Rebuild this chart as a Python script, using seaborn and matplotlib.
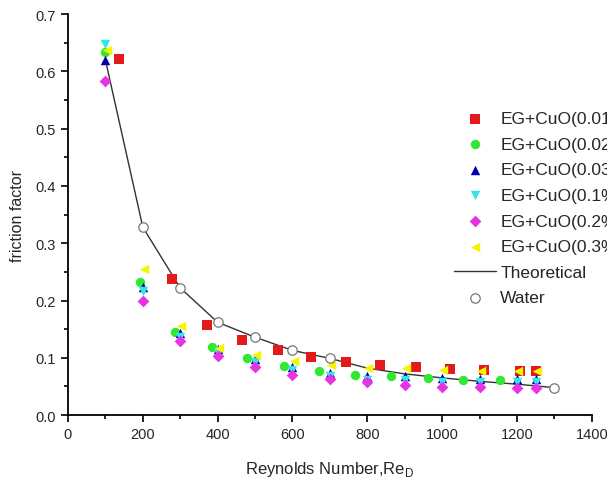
import pandas as pd
import seaborn as sns
import matplotlib.pyplot as plt
from matplotlib.ticker import MultipleLocator

# friction factor vs Reynolds number
re_001 = [136, 279, 372, 466, 560, 650, 744, 835, 931, 1020, 1113, 1207, 1250]
f_001 = [0.622, 0.237, 0.157, 0.131, 0.113, 0.101, 0.093, 0.087, 0.084, 0.080, 0.079, 0.077, 0.077]

re_002 = [100, 193, 286, 385, 479, 576, 672, 768, 864, 961, 1057, 1154]
f_002 = [0.633, 0.232, 0.145, 0.119, 0.100, 0.085, 0.077, 0.070, 0.068, 0.065, 0.061, 0.061]

re_003 = [100, 200, 300, 400, 500, 600, 700, 800, 900, 1000, 1100, 1200, 1250]
f_003 = [0.619, 0.223, 0.143, 0.115, 0.098, 0.084, 0.073, 0.068, 0.068, 0.064, 0.063, 0.063, 0.063]

re_01 = [100, 200, 300, 400, 500, 600, 700, 800, 900, 1000, 1100, 1200, 1250]
f_01 = [0.648, 0.217, 0.137, 0.109, 0.092, 0.078, 0.068, 0.062, 0.061, 0.058, 0.057, 0.057, 0.057]

re_02 = [100, 200, 300, 400, 500, 600, 700, 800, 900, 1000, 1100, 1200, 1250]
f_02 = [0.583, 0.199, 0.129, 0.103, 0.084, 0.070, 0.063, 0.058, 0.052, 0.049, 0.049, 0.047, 0.047]

re_03 = [103, 203, 303, 403, 503, 603, 703, 803, 903, 1003, 1103, 1203, 1253]
f_03 = [0.638, 0.255, 0.155, 0.118, 0.105, 0.094, 0.087, 0.083, 0.083, 0.079, 0.077, 0.077, 0.077]

re_theory = [100, 200, 300, 400, 500, 600, 700, 800, 900, 1000, 1100, 1200, 1300]
f_theory = [0.620, 0.328, 0.222, 0.162, 0.136, 0.113, 0.099, 0.082, 0.072, 0.065, 0.059, 0.054, 0.048]

re_water = [200, 300, 400, 500, 600, 700, 1300]
f_water = [0.328, 0.222, 0.162, 0.136, 0.113, 0.099, 0.048]

sns.set_style("ticks")
plt.rcParams['font.family'] = ['Liberation Sans', 'DejaVu Sans']

fig = plt.figure(figsize=(6.07, 4.85), dpi=100)
ax = fig.add_axes([0.112, 0.142, 0.863, 0.827])

sns.lineplot(x=re_theory, y=f_theory, color='#333333', linewidth=1, ax=ax, label='Theoretical', zorder=2)

series = [
    (re_001, f_001, 's', '#e31a1c', 'EG+CuO(0.01%)', 42),
    (re_002, f_002, 'o', '#33e633', 'EG+CuO(0.02%)', 46),
    (re_003, f_003, '^', '#0000b0', 'EG+CuO(0.03%)', 46),
    (re_01, f_01, 'v', '#33e6e6', 'EG+CuO(0.1%)', 46),
    (re_02, f_02, 'D', '#e633e6', 'EG+CuO(0.2%)', 36),
    (re_03, f_03, '<', '#f5f500', 'EG+CuO(0.3%)', 46),
]
for xs, ys, m, c, lab, s in series:
    sns.scatterplot(x=xs, y=ys, marker=m, color=c, s=s, linewidth=0, ax=ax, label=lab, zorder=3)

sns.scatterplot(x=re_water, y=f_water, marker='o', facecolor='white', edgecolor='#777777',
                s=46, linewidth=0.9, ax=ax, label='Water', zorder=4)

ax.set_xlim(0, 1400)
ax.set_ylim(0, 0.7)
ax.xaxis.set_major_locator(MultipleLocator(200))
ax.xaxis.set_minor_locator(MultipleLocator(100))
ax.yaxis.set_major_locator(MultipleLocator(0.1))
ax.yaxis.set_minor_locator(MultipleLocator(0.05))
ax.yaxis.set_major_formatter(plt.FormatStrFormatter('%.1f'))
ax.tick_params(which='major', length=5, width=1.2, labelsize=10.5, color='black')
ax.tick_params(which='minor', length=3, width=1.2, color='black')
for side in ['left', 'bottom']:
    ax.spines[side].set_linewidth(1.3)
    ax.spines[side].set_color('black')
sns.despine(ax=ax)

ax.set_xlabel('Reynolds Number,Re$_\\mathregular{D}$', fontsize=12, labelpad=13)
ax.set_ylabel('friction factor', fontsize=11.5, labelpad=8)

handles, labels = ax.get_legend_handles_labels()
order = labels[1:7] + [labels[0], labels[7]]
hmap = dict(zip(labels, handles))
ax.legend([hmap[l] for l in order], order, loc='upper left', frameon=False,
          bbox_to_anchor=(0.737, 0.783), bbox_transform=fig.transFigure,
          fontsize=12.5, labelspacing=0.6, handlelength=2.4, handletextpad=0.25,
          borderaxespad=0)

fig.savefig('out.png', dpi=100)
